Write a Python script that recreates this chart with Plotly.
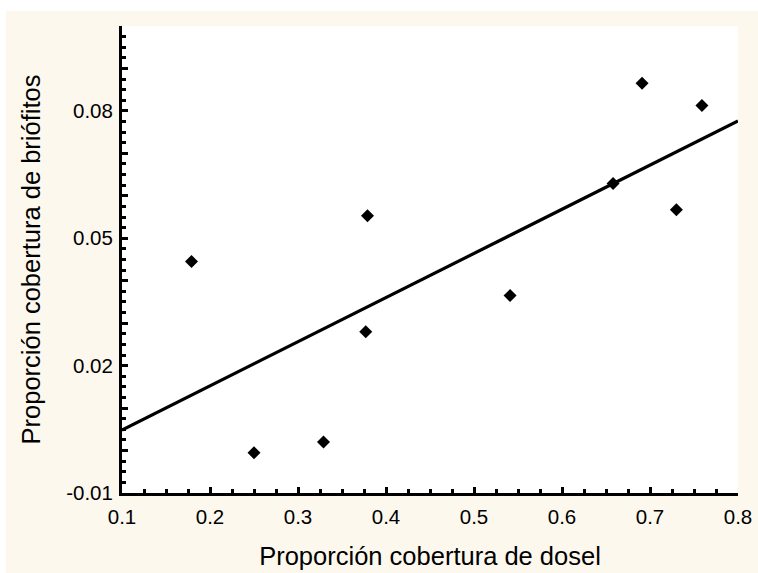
import numpy as np
import plotly.graph_objects as go

# Data
dosel = [0.179, 0.250, 0.329, 0.379, 0.377, 0.541, 0.658, 0.691, 0.730, 0.759]
briofitos = [0.0445, -0.0005, 0.0020, 0.0553, 0.0280, 0.0365, 0.0629, 0.0865, 0.0567, 0.0813]

x_ticks = [0.1, 0.2, 0.3, 0.4, 0.5, 0.6, 0.7, 0.8]
y_tickvals = [-0.01, 0.0, 0.01, 0.02, 0.03, 0.04, 0.05, 0.06, 0.07, 0.08, 0.09, 0.10]
y_ticktext = ["-0.01", "", "", "0.02", "", "", "0.05", "", "", "0.08", "", ""]

x_title = "Proporción cobertura de dosel"
y_title = "Proporción cobertura de briófitos"

# Linear regression fit from the data
slope, intercept = np.polyfit(dosel, briofitos, 1)
fit_x = np.array([x_ticks[0], x_ticks[-1]])
fit_y = intercept + slope * fit_x

FONT = "Liberation Sans, Arial, sans-serif"
BG = "#FDF8EE"

fig = go.Figure()
fig.add_trace(go.Scatter(x=fit_x, y=fit_y, mode="lines",
                         line=dict(color="black", width=3.2), hoverinfo="skip"))
fig.add_trace(go.Scatter(x=dosel, y=briofitos, mode="markers",
                         marker=dict(symbol="diamond", size=10, color="black")))

axis_common = dict(
    showline=True, linecolor="black", linewidth=3, mirror=False,
    showgrid=False, zeroline=False, automargin=False,
    ticks="inside", ticklen=6, tickwidth=2.5, tickcolor="black",
    tickfont=dict(family=FONT, size=20.5, color="black"),
)

fig.update_xaxes(
    range=[0.1, 0.8], tickmode="array", tickvals=x_ticks,
    ticktext=[f"{v:.1f}" for v in x_ticks],
    minor=dict(dtick=0.025, tick0=0.1, ticks="inside", ticklen=4, tickwidth=2.5, tickcolor="black"),
    ticklabelstandoff=3,
    title=dict(text=x_title, font=dict(family=FONT, size=25.5, color="black"), standoff=21),
    **axis_common,
)
fig.update_yaxes(
    range=[-0.01, 0.1], tickmode="array", tickvals=y_tickvals, ticktext=y_ticktext,
    minor=dict(dtick=0.0025, tick0=-0.01, ticks="inside", ticklen=4, tickwidth=2.5, tickcolor="black"),
    ticklabelstandoff=2,
    title=dict(text=y_title, font=dict(family=FONT, size=25.5, color="black"), standoff=19),
    **axis_common,
)

fig.update_layout(
    width=758, height=573,
    margin=dict(l=122, r=20, t=26, b=80),
    paper_bgcolor=BG, plot_bgcolor="white",
    showlegend=False,
    shapes=[
        dict(type="rect", xref="paper", yref="paper", x0=-0.3, x1=1.2,
             y0=1.0 + 15 / 467, y1=1.2, fillcolor="white", line=dict(width=0), layer="below"),
        dict(type="rect", xref="paper", yref="paper", x0=-0.3, x1=-116 / 616,
             y0=-0.3, y1=1.2, fillcolor="white", line=dict(width=0), layer="below"),
    ],
)

fig.write_html("out.html")
